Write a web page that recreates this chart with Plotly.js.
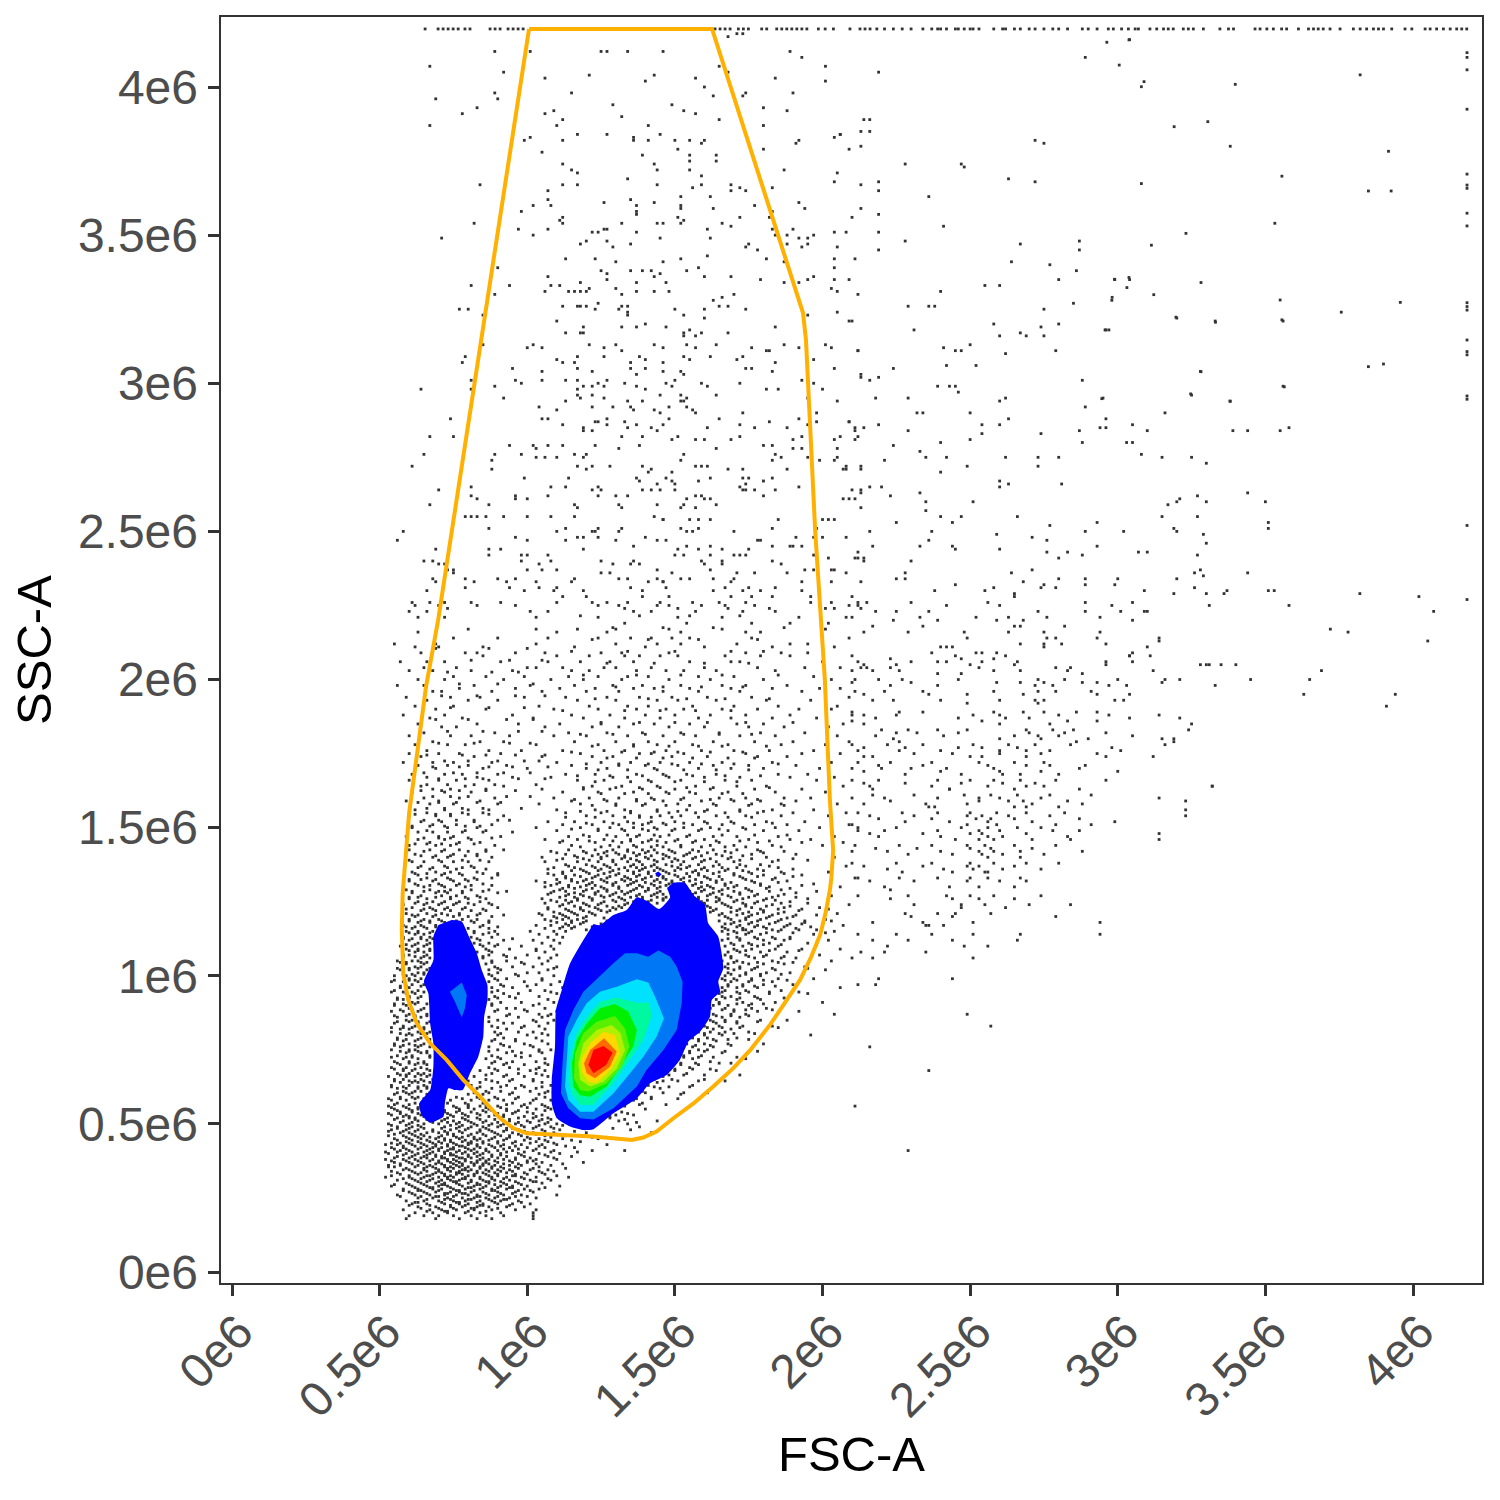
<!DOCTYPE html>
<html><head><meta charset="utf-8"><script src="https://cdn.plot.ly/plotly-3.0.1.min.js"></script>
<style>html,body{margin:0;padding:0;background:#fff}</style></head><body><div id="chart" style="width:1500px;height:1500px"></div>
<script>
// all values in units of 1e6
const xTicks=[0,.5,1,1.5,2,2.5,3,3.5,4];
const tickLabels=["0e6","0.5e6","1e6","1.5e6","2e6","2.5e6","3e6","3.5e6","4e6"];
const railLevel=4.196, railColumn=4.183;
const railTopX=[.654,.698,.715,.732,.749,.766,.789,.806,.874,.891,.908,.935,.952,.969,.986,1.636,1.653,1.670,1.687,1.715,1.732,1.749,1.794,1.811,1.845,1.862,1.879,1.896,1.913,1.930,1.947,1.986,2.009,2.037,2.093,2.127,2.144,2.161,2.184,2.21,2.24,2.27,2.3,2.34,2.37,2.39,2.4,2.42,2.45,2.46,2.48,2.5,2.51,2.53,2.58,2.61,2.62,2.65,2.67,2.7,2.72,2.75,2.78,2.8,2.83,2.88,2.9,2.93,2.968,2.985,3.013,3.036,3.059,3.070,3.109,3.132,3.155,3.171,3.188,3.222,3.239,3.256,3.290,3.346,3.375,3.392,3.465,3.482,3.505,3.527,3.555,3.572,3.612,3.646,3.663,3.679,3.696,3.719,3.753,3.798,3.821,3.843,3.866,3.883,3.900,3.928,3.973,3.996,4.041,4.058,4.080,4.103,4.126,4.148,4.165,4.182];
const railRightY=[4.116,4.100,4.058,3.925,3.706,3.669,3.658,3.574,3.531,3.272,3.259,3.247,3.146,3.107,3.096,2.957,2.946,2.52,2.27];
// x,y pairs
const upperXY=[.89,4.12,1.01,4.12,1.25,4.12,1.27,4.12,1.34,4.12,1.46,4.12,.67,4.07,.92,4.05,1.06,4.03,1.21,4.04,1.4,4.02,1.43,4.04,1.57,4.03,1.6,4,1.65,4.07,1.68,4.05,1.15,3.98,.89,3.98,.9,3.96,.69,3.96,.83,3.93,.78,3.91,.67,3.87,1.06,3.91,1.09,3.92,1.29,3.94,1.49,3.94,1.53,3.92,1.57,3.91,1.63,3.97,1.32,3.9,1.12,3.89,1.1,3.87,1.65,3.89,1.41,3.87,1.17,3.84,1.27,3.84,1.45,3.84,1.01,3.83,.99,3.82,1.12,3.82,1.36,3.83,1.36,3.82,1.41,3.82,1.5,3.82,1.55,3.82,1.59,3.81,1.6,3.82,1.51,3.79,1.05,3.78,1.39,3.77,1.55,3.77,1.55,3.75,1.64,3.77,1.64,3.75,1.12,3.74,1.43,3.74,1.15,3.72,1.44,3.72,1.55,3.72,1.17,3.71,1.59,3.7,1.34,3.69,1.12,3.67,1.17,3.67,1.44,3.67,1.59,3.67,1.69,3.67,.84,3.67,1.56,3.66,1.72,3.66,1.69,3.65,1.74,3.65,1.83,3.66,1.07,3.65,1.07,3.62,1.35,3.62,1.52,3.63,1.62,3.63,1.08,3.6,1.26,3.61,1.37,3.6,1.43,3.61,1.52,3.6,1.52,3.59,1.63,3.59,1.02,3.6,.98,3.58,1.37,3.58,1.37,3.57,1.83,3.58,1.77,3.6,1.12,3.56,1.11,3.55,1.12,3.54,1.51,3.56,1.53,3.55,1.52,3.54,1.32,3.54,1.44,3.54,1.46,3.54,1.66,3.54,1.72,3.56,1.69,3.53,1.82,3.56,.82,3.54,.97,3.52,1.07,3.52,1.02,3.5,.71,3.49,1.22,3.51,1.24,3.51,1.26,3.52,1.27,3.52,1.37,3.51,1.61,3.52,1.62,3.49,1.45,3.49,1.2,3.48,1.27,3.48,1.35,3.47,1.18,3.47,1.29,3.46,1.75,3.47,1.74,3.46,1.78,3.45,1.83,3.52,1.9,3.52,1.84,3.5,1.88,3.5,1.92,3.49,1.95,3.49,1.97,3.5,1.88,3.47,1.93,3.46,1.95,3.47,2.04,3.51,2.08,3.51,2.19,3.51,2.05,3.46,2.04,3.83,2.06,3.84,1.92,3.82,1.91,3.81,1.8,3.79,2.13,3.8,2.16,3.85,2.14,3.89,1.8,3.87,1.8,3.93,1.88,3.92,1.9,3.98,1.74,3.98,1.73,3.97,1.84,4.03,2.01,4.02,2.01,4.07,1.89,4.12,1.93,4.1,1.87,3.72,2.05,3.71,2.04,3.68,2.19,3.68,1.92,3.61,1.94,3.59,2.1,3.56,1.68,4.17,1.71,4.18,1.73,4.18,1.13,3.42,1.23,3.42,1.3,3.41,1.46,3.41,1.52,3.42,1.61,3.43,1.81,3.42,1.87,3.41,2.04,3.42,2.11,3.42,.9,3.39,1.25,3.38,1.35,3.38,1.39,3.38,1.42,3.38,1.54,3.38,1.58,3.39,2.04,3.39,1.07,3.36,1.27,3.37,1.43,3.36,1.45,3.37,1.6,3.36,1.69,3.36,.81,3.33,.94,3.33,1.08,3.33,1.11,3.33,1.18,3.34,1.27,3.35,1.37,3.34,1.47,3.34,1.79,3.35,1.87,3.34,1.92,3.34,1.95,3.35,1.97,3.36,2.04,3.35,2.09,3.35,1.06,3.31,1.14,3.31,1.16,3.31,1.18,3.31,1.2,3.31,1.21,3.32,1.3,3.32,1.37,3.31,1.43,3.31,1.48,3.31,1.32,3.3,.89,3.3,2.03,3.32,2.05,3.31,2.12,3.3,1.7,3.3,1.66,3.29,1.63,3.28,1.24,3.27,1.17,3.26,1.18,3.26,1.2,3.26,1.12,3.26,1.65,3.26,1.68,3.26,.8,3.25,.77,3.25,1.23,3.25,1.32,3.26,1.34,3.26,1.31,3.25,1.34,3.24,1.34,3.23,1.5,3.25,1.6,3.25,1.74,3.25,1.53,3.23,1.6,3.22,1.95,3.23,2.05,3.24,.85,3.23,1.1,3.21,2.1,3.21,1.19,3.19,1.19,3.17,1.18,3.17,1.32,3.19,1.37,3.19,1.4,3.2,1.47,3.19,1.84,3.19,1.13,3.17,1.53,3.17,1.55,3.18,1.59,3.17,1.68,3.17,1.53,3.16,1.57,3.16,2.89,4.1,2.19,4.05,3.04,4.16,2.72,3.82,2.75,3.81,2.28,3.74,2.47,3.74,2.48,3.73,2.63,3.69,2.72,3.68,2.19,3.65,2.36,3.63,2.87,3.48,2.87,3.45,2.67,3.47,2.64,3.41,2.77,3.4,2.86,3.38,2.99,3.35,3.04,3.35,2.98,3.28,2.6,3.33,2.55,3.33,2.8,3.35,2.41,3.53,2.28,3.48,2.19,3.57,2.09,3.79,2.13,3.85,2.16,3.89,2.06,3.84,2.13,3.67,2.19,3.45,2.13,3.59,2.38,3.26,2.4,3.31];
const farRightXY=[2.963,4.151,3.038,4.159,3.005,4.074,3.089,4.018,3.08,4.001,3.398,4.009,3.821,4.041,3.191,3.866,3.305,3.883,3.381,3.8,3.917,3.783,3.556,3.699,3.08,3.674,3.849,3.649,3.926,3.649,3.532,3.54,3.231,3.506,3.114,3.466,2.989,3.351,3.038,3.357,3.031,3.323,3.282,3.34,2.981,3.29,3.122,3.299,3.55,3.281,3.957,3.273,3.757,3.24,3.197,3.223,3.331,3.206,3.556,3.214,2.957,3.18,3.849,3.056,3.9,3.065,3.282,3.039,3.564,2.988,3.247,2.964,3.381,2.939,2.946,2.948,2.29,3.26,2.36,3.26,2.09,3.21,2.31,3.18,2.58,3.2,2.6,3.16,2.67,3.17,2.69,3.16,2.74,3.19,2.75,3.16,2.8,3.2,2.75,3.25,2.85,3.27,2.96,3.18,2.97,3.18,3.2,3.22,3.33,3.21,3.56,3.21,2.12,3.11,2.41,3.12,2.45,3.11,2.47,3.11,2.5,3.13,2.62,3.1,2.79,3.11,2.24,3.05,2.42,3.06,2.52,3.06,2.13,3.02,2.16,3.01,2.19,3.02,2.39,2.99,2.43,2.99,2.45,2.99,2.46,2.97,2.88,3.01,3.28,3.04,3.25,2.96,3.56,2.99,2.18,2.95,2.29,2.95,2.6,2.94,2.62,2.95,2.89,2.92,2.95,2.95,3.38,2.94,3.16,2.9,2.32,2.9,2.34,2.9,2.5,2.9,2.63,2.88,2.09,2.87,2.11,2.85,2.14,2.85,2.19,2.86,2.54,2.86,2.6,2.86,2.96,2.88,3.05,2.86,2.94,2.85,2.96,2.85,3.1,2.84,2.87,2.84,2.29,2.84,3.39,2.84,3.44,2.84,3.55,2.84,3.58,2.85,2.12,2.82,2.54,2.83,2.74,2.83,2.5,2.81,2.4,2.8,3.03,2.8,3.05,2.8,2.88,2.8,2.24,2.79,2.33,2.77,3.08,2.76,2.35,2.75,2.42,2.75,2.62,2.75,2.73,2.75,2.8,2.75,3.15,2.75,3.25,2.75,2.21,2.74,3.3,2.73,2.49,2.72,2.73,2.72,2.08,2.72,2.13,2.71,2.4,2.7,2.6,2.67,2.63,2.66,2.81,2.66,2.6,2.65,2.16,2.65,2.2,2.65,2.13,2.63,2.33,2.63,2.23,2.62,3.44,2.63,3.27,2.62,2.35,2.6,2.51,2.6,3.21,2.61,3.2,2.6,3.3,2.6,3.5,2.6,3.17,2.59,2.35,2.57,3.27,2.55,3.15,2.55,2.47,2.55,2.4,2.55,2.66,2.55,2.44,2.53,2.25,2.53,2.93,2.53,3.51,2.53,2.77,2.52,3.19,2.51,3.51,2.51,2.37,2.5,3.02,2.5,2.16,2.5,2.89,2.5,3.2,2.5,2.59,2.49,3.29,2.49,2.71,2.48,2.76,2.47,2.36,2.47,3.3,2.46,2.17,2.45,2.33,2.45,2.44,2.45,2.93,2.45,2.6,2.44,2.45,2.44,2.76,2.43,2.83,2.43,3.07,2.43,3.1,2.43,2.12,2.43,2.88,2.42,3.27,2.42,2.8,2.41,2.14,2.4,2.3,2.4,2.71,2.37,2.28,2.36,2.64,2.36,3.26,2.36,3.44,2.36,3.29,2.35,2.25,2.34,2.28,2.34,2.8,2.34,2.89,2.34,3.2,2.34,3,2.34,2.45,2.32,2.68,2.33,2.99,2.32,2.89,2.32,2.75,2.32,2.79,2.31,2.74,2.31,2.58,2.31,3.26,2.31,3.09,2.3,2.55,2.3,2.38,2.3,3.37,2.3,3.51,2.3,2.65,2.29,2.65,2.28,3.3,2.29,3.72,2.17,3.78,2.16,3.63,1.95,3.65,2,3.69,2.03,3.91,1.91,3.94,1.95,4.05,2.13,4.02,2.28,4.07,2.23,3.82,2.29,3.58,2.25,3.53,2.3,3.3,2.05,3.35,2.05,3.45,2,3.19,1.8,3.24,1.83,3.16,1.78,3.23,1.56,3.32,1.64,3.14,1.46,2.94,1.14,3.02,1.93,3.14,2.13,3.04,2.08,3.21,2,3.09,2.23,3.19,2.29,3.28,2.37,3.36,2.29,2.49,.87,2.57,.83,2.36,.68,2.16,.76,2.11,.56,2.29,.41];
// rows: first number is SSC, the rest are FSC readings on that row
const gateRows=[[3.13,.85,1.02,1.21,1.3,1.43,1.54,1.64,1.87,2.01],[3.12,1,1.05,1.26,1.46,1.57,1.76,1.92,2.03],[3.11,1.32,1.81,1.82,2.12],[3.09,.79,1.17,1.26,1.38,1.53,1.62,1.73],[3.08,1.1,1.4,1.55,1.71,1.97],[3.07,.78,1.12,1.16,1.46,1.84,1.35],[3.05,.95,1.17,1.4,1.74,1.76,2.04,1.35],[3.04,1.05,1.22,1.46,1.52,1.83],[3.03,1.37,1.53,2.13],[3.01,.81,.96,1.05,1.13,1.17,1.27,1.5,1.93],[3,.98,1.24,1.33,1.47,1.59,1.72,1.97],[2.99,.89,1.19,1.22,1.26,1.37,1.49,1.61],[2.98,.64,.81,1.17,1.4,1.81,1.85,2],[2.96,1.17,1.45,1.52,1.64,1.22],[2.95,.92,1.18,1.26,1.54,1.95],[2.94,1.13,1.34,1.39,1.52,1.53,2.05],[2.92,1.04,1.22,1.29,1.35,1.48,1.54],[2.91,1.1,1.36,1.43,1.56],[2.9,1.45,1.57,1.73,1.98],[2.88,.74,1.05,1.07,1.27,1.48,1.65,1.92],[2.87,1.24,1.23,1.33,1.82,1.98,2.09],[2.86,1.12,1.27,1.37,1.46,1.72,1.95],[2.85,1.19,1.34,1.42,1.61,1.77,1.88],[2.84,1.19,1.22,1.44,2.11],[2.82,.67,.75,1.32,1.39,1.51,1.72,1.93,2.06],[2.81,1.49,1.57,1.6,1.69,1.9,2.04,2.11],[2.79,.94,1.02,1.07,1.12,1.23,1.38,1.8,1.83],[2.78,1.03,1.64,1.93,2.05,1.31,1.9],[2.76,.65,.89,.98,1.2,1.16,1.53,1.84],[2.75,1.03,1.06,1.1,1.19,1.86,2.05,1.95],[2.74,.88,1.52,1.83,1.99,2.04],[2.72,.61,1.17,1.22,1.28,1.39,1.57,1.59,1.61,2.13],[2.71,.88,1.2,1.42,1.68,1.73,1.88,2.07,2.08],[2.7,1.41,1.49],[2.68,.99,1.14,1.37,1.47,1.62,1.73,1.75,1.83],[2.67,1.38,1.49,1.58,1.8],[2.66,1.44,1.5,1.74],[2.65,.81,1.08,1.13,1.24,1.72,1.92],[2.64,.7,1.22,1.25,1.39,1.42,1.45,1.5,1.73,1.74,1.77,1.84,2.1,2.13],[2.62,.81,.96,1.07,1.24,1.3,1.34,1.57,1.59,1.8],[2.61,.83,.96,1,1.54,1.6,1.62,2.07,2.11,2.09],[2.59,.67,.87,1.16,1.31,1.44,1.53,1.64],[2.58,1.17,1.32,1.52,1.57,2.13],[2.55,.79,.81,.83,.86,.92,1,1.08,1.16,1.43],[2.54,1.46,1.46,1.55,1.58,1.62,1.85,2,2.02,2.04],[2.51,.87,1.13,1.24,1.32,1.52,1.58,1.83,1.98],[2.5,.58,1.1,1.22,1.23,1.31,1.54,1.56,1.7],[2.48,.96,1.17,1.19,1.24,1.4,1.91,1.97,2,2.08],[2.47,.56,1,1.13,1.3,1.44,1.47,1.78,1.79],[2.45,1.36,1.54,1.83,1.89,1.9,1.93,1.62],[2.44,.69,.87,.91,1.19,1.51,1.58,1.66,1.75],[2.42,.87,.98,1,1.07,1.5,1.53,1.62,1.7,1.72,1.74,1.97],[2.41,2.02,2.11,2.12,2.14],[2.4,.65,.68,.98,1.08,1.25,1.36,1.59,1.66,1.83],[2.39,.7,.72,1.04,1.29,1.35,1.38,1.6,1.66,1.86],[2.37,.73,.75,1,1.05,1.1,1.44,1.62,1.94,1.97,2.03,2.04],[2.36,.75,1.25,1.28,1.49,1.71,1.77,1.88,2.08],[2.34,.68,.79,.9,.96,1.16,1.31,1.34,1.44,1.52,1.55,1.63,1.7],[2.33,.69,.82,.93,1.03,1.15,1.41,1.46,1.46,1.69,1.93,2.03,2.13],[2.31,.79,.94,1.04,1.1,1.35,1.47,1.67,1.75,1.84],[2.3,.66,.99,1.09,1.19,1.39,1.63,1.73,1.79,1.93],[2.28,1.12,1.2,1.39,1.48,1.69,1.76,1.83,1.96,2.1],[2.26,.61,.67,.72,.81,.91,1.1,1.22,1.27,1.34,1.45,1.56,1.65,1.74,1.96,2.03,2.12],[2.25,.62,.7,.83,.96,1.24,1.31,1.44,1.48,1.59,1.67,1.77,1.99,2.09],[2.24,.73,1.33,1.51,1.68,1.82,2.01,2.04,2.13]];
const clusterRows=[[2.26,2.15,2.3,2.56,2.89,3.05],[2.25,2.12,2.42,2.6,2.98,3.31],[2.23,2.18,2.25,2.73,2.89,3.01,3.1,2.36],[2.21,2.1,2.33,2.52,2.63,2.76,2.94],[2.2,2.24,2.39,2.59,2.68,3.05],[2.18,2.17,2.34,2.82,2.65,2.67],[2.16,2.14,2.29,2.48,2.63,2.75,2.94],[2.14,2.49,2.76,2.79,2.93,3.14],[2.12,2.81,2.67,2.75,2.96],[2.11,2.4,2.44,2.42,3.1,2.75],[2.09,2.37,2.54,2.52,2.59,3.05],[2.08,2.45,2.62,2.1,3.04,3.11],[2.07,2.23,2.47,2.58],[2.06,2.12,2.3,2.39,2.42,2.54,2.66,2.96,3.05],[2.05,2.14,2.25,2.5,2.65,2.96,3.28,3.31,3.4],[2.04,2.13,2.15,2.23,2.53,2.79,2.84],[2.03,2.1,2.17,2.26,2.58,2.67,2.83,3.12],[2.02,2.39,2.47,2.88],[2,2.19,2.27,2.46,2.73,2.82,3,3.16],[1.99,2.1,2.3,2.59,2.67,2.75,2.88,2.93,3.15],[1.98,2.23,2.39,2.72,2.78,2.97,3.03,3.33],[1.96,2.11,2.21,2.34,2.58,2.73,2.79,2.91],[1.95,2.14,2.36,2.49,2.68,2.93,3.04],[1.93,2.17,2.24,2.4,2.6,2.72,2.75,2.99],[1.92,2.49,2.73],[1.89,2.1,2.26,2.34,2.58,2.68,2.75,2.86,2.93],[1.88,2.14,2.25,2.51,2.6,2.8,2.97,3.14],[1.87,2.18,2.46,2.62,2.7,3.04,3.21],[1.86,2.1,2.54,2.83,2.93],[1.85,2.14,2.6,2.77,3.25],[1.83,2.2,2.29,2.39,2.49,2.69,2.78,2.85],[1.82,2.25,2.32,2.46,2.7,2.82,2.96],[1.81,2.18,2.41,2.65,2.73,2.8,3.05],[1.8,2.24,2.6,2.74,2.9,3.15],[1.79,2.26,2.86,3.19],[1.78,2.1,2.22,2.34,2.51,2.63,2.72,2.84],[1.77,2.14,2.28,2.46,2.54,2.66,2.98],[1.76,2.12,2.26,2.4,2.6,2.69,2.77,3.01],[1.75,2.31,2.44,2.74,2.93,2.6],[1.74,2.14,2.17,2.5,2.54,2.69,2.96,3.12],[1.72,2.12,2.23,2.37,2.53,2.65,2.75],[1.71,2.19,2.34,2.56,2.69,2.77,2.89],[1.7,2.3,2.42,2.58,2.2,2.87],[1.69,2.14,2.4,2.6,2.74,3],[1.68,2.28,2.47,2.61,2.67,2.8],[1.66,2.1,2.19,2.39,2.5,2.58,2.67,2.79,2.96],[1.65,2.14,2.28,2.47,2.61,2.72],[1.64,2.16,2.37,2.56,2.69,2.75,3.32],[1.63,2.17,2.43,2.43,2.65,2.87],[1.61,2.17,2.31,2.48,2.57,2.66,2.77,2.91],[1.6,2.21,2.39,2.53,2.6,2.74,3.14],[1.59,2.23,2.53,2.63,2.68,2.83,3.23],[1.58,2.14,2.35,2.49,2.71,2.88],[1.57,2.38,2.36,2.65,2.69,2.8],[1.55,2.12,2.27,2.39,2.5,2.59,2.69,2.82],[1.54,2.16,2.31,2.49,2.54,2.63,2.77,3.23],[1.53,2.19,2.37,2.52,2.57,2.65,2.87],[1.52,2.28,2.43,2.56,2.71,2.99],[1.51,2.1,2.49,2.59,2.79,2.91],[1.5,2.12,2.25,2.47,2.56,2.66,2.74],[1.49,2.21,2.39,2.53,2.6,2.78,2.87],[1.48,2.16,2.34,2.5,2.54,2.69,3.14],[1.47,2.19,2.4,2.56,2.61,2.83],[1.46,2.45,2.53,2.58,2.71,2.84],[1.44,2.11,2.26,2.37,2.49,2.55,2.65,2.79],[1.43,2.18,2.32,2.5,2.57,2.71],[1.42,2.22,2.4,2.53,2.58,2.67,2.88],[1.41,2.29,2.44,2.54,2.61,2.75],[1.4,2.56,2.67],[1.38,2.1,2.25,2.37,2.5,2.58,2.69,2.8],[1.37,2.14,2.34,2.49,2.53,2.65],[1.36,2.22,2.41,2.51,2.61,2.74],[1.35,2.27,2.44,2.55,2.56],[1.33,2.12,2.26,2.39,2.5,2.56,2.67],[1.32,2.16,2.31,2.49,2.6,2.69],[1.3,2.21,2.43,2.53,2.65],[1.29,2.23],[1.27,2.12,2.29,2.42,2.5,2.58,2.74],[1.26,2.23,2.44,2.53,2.65],[1.24,2.31,2.47,2.55,2.7,2.84],[1.23,2.47,2.62],[1.21,2.28,2.39,2.45,2.57],[1.2,2.3,2.44,2.79],[1.18,2.17,2.34,2.51,2.94],[1.17,2.35,2.41,2.36],[1.14,2.12,2.25,2.37,2.51,2.67],[1.12,2.17,2.29,2.44,2.66],[1.1,2.22,2.56,2.48],[1.08,2.13,2.35,2.21],[1.06,2.1,2.17,2.51],[.99,2.19,2.44],[.97,2.12,2.18]];
const midRows=[[2.23,.6,.66,1.01,1.07,1.36,1.42,1.57,1.73,1.84],[2.21,.63,.72,1.03,1.24,1.51,1.66,1.92,2.08],[2.19,1.33,1.54,1.76,1.89,2.02],[2.17,.8,1.03,1.17,1.3,1.48,1.66,2.01],[2.16,.63,1.1,1.27,1.52,1.74,1.79],[2.14,.75,.9,1.07,1.24,1.35,1.42,1.49,1.55,1.76,2.09],[2.12,.55,.69,1.03,1.3,1.44,1.52,1.71,1.89,1.95],[2.11,.62,.7,.85,1.16,1.4,1.6,1.83,2.04],[2.09,.64,.79,.83,.96,1.06,1.25,1.32,1.48,1.74,1.86,1.95],[2.08,.85,1.1,1.21,1.33,1.38,1.45,1.51,1.67,1.79,1.89],[2.06,.57,.66,.72,.91,1.07,1.18,1.28,1.36,1.55,1.69,1.72,2],[2.04,.65,.76,1,1.03,1.12,1.26,1.3,1.42,1.6,1.78,1.94,2.06],[2.03,.6,.68,.81,.95,1.15,1.21,1.37,1.47,1.53,1.64,1.84],[2.01,.75,.86,.99,1.14,1.24,1.34,1.41,1.58,1.7,1.97],[2,.63,.72,.92,1.08,1.19,1.32,1.48,1.62,1.8,2.03,2.11],[1.98,.56,.65,.82,1.01,1.16,1.29,1.39,1.52,1.66,1.74,1.88],[1.97,.77,.96,1.11,1.23,1.36,1.43,1.55,1.69,1.83,1.99,2.06],[1.96,.68,.71,.88,1.05,1.2,1.31,1.46,1.58,1.72,1.93],[1.94,.59,.74,.84,.99,1.13,1.27,1.38,1.49,1.61,1.76,2.01,2.09],[1.93,.66,.8,.9,1.17,1.3,1.44,1.51,1.64,1.81,1.96],[1.91,.62,.75,1.04,1.21,1.34,1.41,1.56,1.7,1.85,2.05],[1.9,.69,.86,1.09,1.24,1.37,1.47,1.53,1.66,1.78,1.92,2.03],[1.88,.58,.72,.95,1.15,1.28,1.4,1.5,1.62,1.74,1.89,2.1],[1.87,.67,.78,1.02,1.19,1.33,1.45,1.58,1.69,1.83,1.98],[1.85,.63,.83,.97,1.11,1.25,1.36,1.43,1.55,1.71,1.8,2.07],[1.84,.71,.76,1.06,1.22,1.31,1.48,1.6,1.75,1.87,2.02],[1.82,.65,.89,1.14,1.27,1.39,1.52,1.65,1.79,1.94],[1.81,.6,.74,.81,.94,1.09,1.2,1.34,1.46,1.57,1.72,1.84,2.05],[1.79,.68,.84,.92,1.16,1.3,1.41,1.5,1.63,1.77,1.9,2.09],[1.78,.62,.73,.79,1.03,1.24,1.36,1.44,1.56,1.68,1.86,2.01],[1.76,.66,.87,.98,1.12,1.26,1.33,1.47,1.59,1.7,1.82,1.97],[1.75,.6,.7,.77,.91,1.18,1.38,1.42,1.53,1.74,1.93,2.06],[1.74,.64,.82,1.05,1.22,1.29,1.49,1.61,1.78,1.88],[1.72,.58,.68,.75,.88,1.1,1.25,1.35,1.45,1.55,1.66,1.83,2.03],[1.71,.63,.73,.8,.93,1.15,1.31,1.4,1.51,1.63,1.75,1.91],[1.7,.69,.85,1,1.2,1.27,1.43,1.58,1.69,1.8,1.99,2.1],[1.68,.61,.72,.78,.9,1.13,1.23,1.37,1.46,1.54,1.64,1.85,1.95],[1.67,.66,.83,.95,1.08,1.29,1.34,1.48,1.6,1.72,1.89,2.04],[1.66,.6,.7,.76,.87,1.17,1.26,1.41,1.52,1.67,1.76,1.98],[1.64,.64,.79,.92,1.22,1.32,1.44,1.57,1.71,1.81,2.07],[1.63,.68,.74,.86,1.05,1.19,1.28,1.39,1.5,1.62,1.77,1.93],[1.62,.61,.72,.81,1.12,1.24,1.36,1.47,1.55,1.68,1.84,2.01],[1.6,.65,.77,.89,1.09,1.21,1.31,1.42,1.53,1.65,1.74,1.87,1.96,2.1],[1.59,.59,.7,.84,1.15,1.27,1.37,1.46,1.59,1.7,1.79,1.91],[1.58,.67,.75,.9,1.04,1.18,1.3,1.4,1.51,1.63,1.76,1.86,2.05],[1.56,.62,.72,.8,.87,1.1,1.23,1.33,1.44,1.54,1.61,1.72,1.83,1.97],[1.55,.66,.78,.85,1.13,1.25,1.35,1.48,1.57,1.67,1.78,1.9,2.08],[1.54,.6,.69,.74,.92,1.2,1.29,1.38,1.45,1.52,1.64,1.74,1.86,2.02],[1.52,.64,.71,.82,1.07,1.16,1.26,1.34,1.42,1.5,1.6,1.69,1.81,1.94],[1.51,.68,.76,.88,1.12,1.22,1.31,1.39,1.47,1.56,1.66,1.77,1.88,2.09],[1.5,.61,.73,.83,1.03,1.18,1.28,1.36,1.43,1.53,1.62,1.73,1.84,1.99],[1.49,.66,.79,.86,1.1,1.24,1.33,1.41,1.49,1.58,1.68,1.8,1.92,2.12],[1.47,.59,.7,.75,.91,1.14,1.21,1.3,1.37,1.45,1.54,1.63,1.71,1.85,2.04],[1.46,.63,.72,.81,1.06,1.17,1.26,1.35,1.42,1.51,1.6,1.75,1.89,1.96],[1.45,.67,.77,.84,1.11,1.23,1.32,1.39,1.47,1.56,1.65,1.78,1.93,2.07],[1.44,.6,.69,.74,.89,1.15,1.28,1.36,1.44,1.52,1.62,1.7,1.83,2],[1.42,.65,.71,.8,.86,1.08,1.19,1.27,1.34,1.41,1.49,1.58,1.67,1.79,1.87,2.1],[1.41,.62,.75,.83,1.13,1.24,1.31,1.38,1.46,1.54,1.64,1.76,1.91],[1.4,.68,.73,.88,1.05,1.17,1.25,1.33,1.4,1.48,1.57,1.69,1.81,2.04],[1.39,.6,.7,.78,.84,1.1,1.21,1.29,1.37,1.43,1.51,1.6,1.72,1.85,1.95],[1.37,.64,.72,.81,1.14,1.22,1.27,1.35,1.42,1.49,1.55,1.63,1.74,1.82,2.08],[1.36,.67,.76,.86,1.07,1.18,1.25,1.31,1.39,1.45,1.52,1.59,1.68,1.78,1.9],[1.35,.61,.69,.74,.83,1.12,1.2,1.28,1.36,1.41,1.47,1.56,1.65,1.75,1.86,2.02],[1.34,.63,.71,.78,.9,1.09,1.16,1.24,1.3,1.38,1.44,1.5,1.58,1.7,1.8,1.93],[1.33,.66,.73,.82,.88,1.13,1.22,1.27,1.34,1.4,1.46,1.53,1.61,1.73,1.84,2.11],[1.32,.6,.68,.75,.8,1.03,1.15,1.19,1.26,1.33,1.37,1.43,1.49,1.55,1.64,1.76,1.88],[1.31,.62,.7,.77,.85,1.1,1.21,1.29,1.35,1.42,1.48,1.57,1.67,1.79,1.97],[1.3,.65,.72,.79,1.06,1.14,1.18,1.25,1.31,1.39,1.45,1.51,1.59,1.62,1.7,1.82,2.06],[1.29,.59,.67,.74,.81,.87,1.11,1.2,1.27,1.36,1.41,1.54,1.6,1.66,1.75,1.86],[1.28,.61,.69,.73,.78,.9,1.08,1.16,1.23,1.3,1.34,1.44,1.57,1.63,1.72,1.91],[1.27,.64,.71,.76,.83,1.13,1.19,1.25,1.28,1.37,1.42,1.55,1.61,1.68,1.77,1.85,2.03],[1.26,.6,.66,.74,.8,.86,1.05,1.17,1.22,1.32,1.39,1.46,1.58,1.65,1.73,1.81,1.95],[1.25,.63,.68,.72,.77,.84,1.1,1.15,1.26,1.3,1.36,1.41,1.59,1.64,1.7,1.78,1.89],[1.24,.58,.65,.7,.75,.82,.88,1.12,1.2,1.24,1.33,1.38,1.6,1.67,1.74,1.83,2.09],[1.23,.61,.67,.73,.79,.9,1.07,1.18,1.23,1.29,1.32,1.62,1.69,1.76,1.87,1.99],[1.22,.64,.69,.74,.81,.86,1.14,1.19,1.25,1.28,1.63,1.71,1.8,1.92],[1.21,.59,.66,.71,.77,.84,1.04,1.11,1.16,1.22,1.66,1.73,1.78,1.85,2.05],[1.2,.62,.68,.75,.8,.88,1.09,1.13,1.2,1.67,1.75,1.82,1.9],[1.19,.6,.65,.7,.78,.83,1.06,1.12,1.17,1.69,1.74,1.79,1.86,2.01],[1.18,.63,.67,.72,.82,.87,1.1,1.15,1.19,1.7,1.76,1.84,1.94],[1.17,.58,.64,.69,.76,.85,1.03,1.08,1.14,1.72,1.78,1.88,2.07]];
const lowerRows=[[1.16,.61,.66,.76,.8,.87,1.06,1.11,1.15,1.67,1.73,1.81,1.91],[1.15,.59,.63,.68,.82,.89,1.01,1.09,1.13,1.66,1.7,1.76,1.85,2.04],[1.14,.62,.65,.85,.9,1.04,1.1,1.68,1.74,1.79,1.97],[1.13,.58,.64,.67,.81,.88,1.07,1.12,1.71,1.77,1.83,1.89],[1.12,.6,.66,.84,.92,1.02,1.09,1.66,1.72,1.8,1.87,2.02],[1.11,.63,.67,.82,.87,1.05,1.11,1.69,1.75,1.82,1.95],[1.1,.57,.61,.65,.85,.89,.98,1.08,1.67,1.73,1.78,1.85],[1.09,.59,.63,.67,.86,.94,1.03,1.09,1.7,1.76,1.84,1.93,2.06],[1.08,.62,.65,.83,.88,1.06,1.68,1.72,1.79,1.88],[1.07,.58,.6,.66,.87,.92,1,1.1,1.67,1.74,1.81,1.99],[1.06,.64,.67,.85,.96,1.04,1.08,1.69,1.77,1.86,1.91],[1.05,.56,.61,.63,.88,.93,1.07,1.66,1.71,1.83,2.03],[1.04,.59,.65,.86,.99,1.05,1.68,1.75,1.8,1.87],[1.03,.62,.64,.89,.95,1.02,1.1,1.67,1.72,1.78,1.94],[1.02,.57,.6,.66,.87,.91,1.07,1.7,1.76,1.84,2.01],[1.01,.63,.65,.9,1,1.04,1.68,1.74,1.81,1.89],[1,.55,.59,.62,.88,.97,1.09,1.67,1.72,1.79],[.99,.6,.64,.89,.93,1.05,1.66,1.7,1.76,1.85,1.97],[.98,.54,.58,.63,.87,.99,1.11,1.69,1.75,1.83],[.97,.61,.65,.91,1.03,1.08,1.68,1.73,1.8,1.9],[.96,.57,.6,.88,.95,1.12,1.66,1.71,1.78,2.06],[.95,.55,.63,.9,1.01,1.06,1.67,1.74,1.86],[.94,.59,.62,.92,.97,1.1,1.65,1.72,1.82,1.95],[.93,.6,.64,.89,.94,1.04,1.66,1.69,1.77],[.92,.56,.58,.87,1.07,1.12,1.64,1.71,1.79,1.88],[.91,.61,.63,.91,.98,1.09,1.65,1.73,1.84,2],[.9,.55,.59,.88,1.02,1.13,1.63,1.68,1.75],[.89,.6,.65,.93,.96,1.06,1.62,1.67,1.76,1.81],[.88,.54,.58,.63,.89,1,1.1,1.61,1.7,1.78,1.92],[.87,.6,.66,.94,1.04,1.08,1.63,1.69,1.74,2.04],[.86,.56,.62,.64,.87,.97,1.05,1.6,1.66,1.72],[.85,.59,.61,.9,1.02,1.09,1.62,1.67,1.79,1.88],[.84,.55,.63,.66,.92,.95,1.07,1.58,1.64,1.71],[.83,.58,.62,.88,.99,1.04,1.6,1.65,1.73,1.83],[.82,.57,.6,.65,.93,1.06,1.56,1.63,1.69],[.81,.54,.63,.67,.89,.97,1.02,1.58,1.62,1.67,1.75],[.8,.59,.61,.9,1,1.07,1.55,1.6,1.66,1.96],[.79,.56,.64,.66,.92,1.03,1.56,1.61,1.71],[.78,.58,.62,.88,.96,1.05,1.52,1.58,1.64],[.77,.55,.6,.65,.91,.99,1.07,1.54,1.6,1.68,1.8],[.76,.57,.63,.67,.87,.94,1.02,1.53,1.56,1.63],[.75,.54,.6,.62,.9,1.04,1.08,1.5,1.58,1.61],[.74,.59,.64,.66,.93,.98,1.05,1.48,1.55,1.66],[.73,.56,.61,.67,.88,.96,1.01,1.49,1.53,1.59],[.72,.58,.63,.86,.91,1.06,1.46,1.51,1.56,1.74],[.71,.55,.6,.65,.89,.95,1.03,1.47,1.5,1.62],[.7,.57,.62,.66,.92,.99,1.07,1.44,1.52,1.58],[.69,.54,.59,.64,.87,.94,1.04,1.43,1.48,1.55],[.68,.58,.61,.67,.84,.9,1.01,1.06,1.45,1.5,1.64],[.67,.56,.6,.63,.65,.88,.97,1.03,1.42,1.47,1.54],[.66,.53,.59,.62,.66,.82,.92,.99,1.07,1.4,1.46],[.65,.55,.58,.64,.68,.86,.95,1.02,1.43,1.49,1.6],[.64,.57,.61,.63,.67,.84,.9,1.05,1.38,1.44],[.63,.54,.6,.65,.7,.81,.93,.98,1.08,1.36,1.41,1.56],[.62,.56,.59,.63,.66,.83,.88,.96,1.03,1.35,1.45],[.61,.58,.62,.64,.69,.86,.91,1.01,1.07,1.33,1.39],[.6,.55,.6,.66,.72,.8,.85,.94,1.04,1.3,1.37,1.52],[.59,.57,.61,.63,.68,.76,.83,.89,.97,1.06,1.34,1.42],[.58,.54,.59,.65,.7,.74,.81,.87,.92,1.02,1.08,1.28,1.36],[.57,.56,.62,.67,.73,.79,.85,.95,1.01,1.31,1.39],[.56,.53,.58,.64,.69,.75,.8,.84,.9,.98,1.06,1.27,1.33],[.55,.55,.6,.63,.71,.77,.82,.87,.93,1.03,1.08,1.29,1.4],[.54,.57,.61,.66,.72,.76,.81,.86,.96,1,1.25,1.32],[.53,.54,.59,.64,.7,.74,.79,.84,.89,.92,1.05,1.3,1.36],[.52,.56,.6,.62,.68,.73,.78,.83,.91,.97,1.02,1.07,1.28],[.51,.58,.63,.67,.71,.75,.8,.86,.94,1,1.04,1.31,1.44],[.5,.53,.6,.65,.7,.76,.82,.88,.92,.96,1.06,1.1,1.34],[.49,.56,.61,.64,.72,.77,.81,.85,.9,.99,1.03,1.08,1.38],[.48,.54,.59,.63,.68,.74,.79,.84,.87,.93,.97,1.05,1.11,1.35],[.47,.57,.6,.66,.7,.73,.78,.83,.89,.95,1,1.02,1.09,1.2,1.42],[.46,.53,.58,.62,.65,.71,.75,.8,.86,.91,.94,.98,1.06,1.13],[.45,.55,.6,.64,.69,.72,.77,.82,.84,.88,.93,1.01,1.04,1.12,1.24],[.44,.59,.63,.67,.7,.74,.78,.81,.85,.9,.96,1.03,1.07,1.18],[.43,.52,.56,.61,.65,.69,.73,.76,.8,.83,.87,.92,.98,1.05,1.1,1.27],[.42,.54,.58,.64,.68,.71,.75,.79,.84,.89,.94,1,1.06,1.16],[.41,.57,.6,.66,.7,.73,.77,.81,.86,.9,.95,1.02,1.09,1.22,1.33],[.4,.53,.59,.63,.67,.72,.74,.78,.82,.85,.91,.97,1.04,1.11],[.39,.56,.61,.65,.69,.71,.76,.8,.83,.88,.93,.99,1.07,1.15],[.38,.52,.58,.62,.68,.73,.75,.79,.84,.87,.92,.96,1.03,1.1],[.37,.55,.6,.64,.7,.74,.77,.81,.83,.86,.9,.95,1,1.05,1.19],[.36,.53,.57,.63,.67,.72,.76,.78,.82,.85,.89,.94,.98,1.08],[.35,.59,.65,.69,.73,.75,.79,.84,.88,.92,.97,1.02,1.13],[.34,.54,.61,.66,.7,.74,.77,.8,.83,.87,.91,.95,1.04,1.09],[.33,.57,.63,.68,.72,.76,.78,.82,.86,.9,.96,1,1.06],[.32,.52,.6,.65,.7,.73,.75,.79,.84,.88,.93,.98,1.03,1.14],[.31,.56,.62,.67,.71,.74,.77,.81,.85,.89,.94,1.01,1.08],[.3,.59,.64,.69,.72,.76,.8,.83,.87,.92,.97,1.05],[.29,.54,.61,.66,.7,.73,.78,.82,.86,.91,.95,1,1.11],[.28,.58,.63,.68,.71,.75,.79,.84,.88,.93,.99,1.04],[.27,.6,.65,.69,.74,.77,.81,.85,.9,.96,1.02],[.26,.56,.62,.67,.72,.76,.8,.83,.87,.92,.98,1.1],[.25,.63,.68,.73,.78,.82,.86,.89,.94,1.03],[.24,.59,.65,.7,.75,.79,.84,.88,.91,.97],[.23,.61,.66,.72,.77,.8,.85,.9,.95,1.01],[.22,.63,.69,.74,.78,.83,.87,.93,.99],[.21,.58,.67,.71,.76,.82,.88,.96,1.03],[.2,.62,.68,.73,.79,.84,.91,1.02],[.19,.6,.65,.7,.75,.81,.86,.92,1.02],[.18,.59,.69,.77,.83,.88,1.02]];
// second pass of readings over the dense populations
const lowClusterRows=[[.205,.66,.72,.73,.8,.86],[.215,.64,.7,.75,.81,.82,.9],[.225,.6,.67,.74,.79,.84,.85,.94],[.235,.62,.63,.71,.76,.77,.83,.89,.98],[.245,.66,.72,.74,.8,.81,.87,.92,.93],[.255,.57,.64,.69,.7,.75,.83,.84,.9,.96,1],[.265,.61,.66,.72,.73,.78,.79,.86,.91,.95],[.275,.58,.63,.64,.7,.76,.77,.82,.88,.89,.97,1.01],[.285,.62,.67,.68,.74,.8,.81,.85,.9,.94,.95,1.06],[.295,.55,.6,.65,.71,.72,.77,.83,.84,.89,.93,.98],[.305,.63,.66,.7,.75,.76,.81,.86,.87,.91,.96,1.02,1.03],[.315,.58,.61,.64,.68,.73,.78,.79,.84,.88,.92,.99,1.07],[.325,.54,.6,.66,.67,.72,.74,.8,.82,.87,.9,.95,.96,1.1],[.335,.56,.62,.64,.69,.71,.76,.77,.83,.85,.89,.93,.99,1.05],[.345,.58,.6,.65,.7,.73,.78,.79,.81,.86,.9,.94,1.01,1.07],[.355,.53,.55,.62,.66,.68,.72,.74,.77,.8,.84,.88,.91,.96,1.04],[.365,.57,.61,.65,.69,.71,.75,.78,.82,.85,.87,.92,.97,1.03,1.12],[.375,.54,.59,.63,.67,.7,.73,.76,.79,.83,.86,.89,.94,1,1.02],[.385,.55,.6,.64,.66,.71,.72,.77,.78,.81,.85,.9,.96,1.01,1.09],[.395,.58,.62,.66,.69,.74,.75,.8,.84,.88,.91,.98,1.06],[.405,.52,.56,.61,.65,.68,.72,.76,.79,.83,.87,.93,.99,1.08,1.17],[.415,.55,.59,.63,.67,.7,.74,.75,.8,.82,.86,.92,.97,1.03],[.425,.58,.62,.66,.69,.73,.77,.78,.83,.88,.91,.96,1.04,1.13],[.435,.54,.57,.6,.64,.68,.71,.75,.8,.81,.85,.9,.95,1.01,1.09],[.445,.56,.61,.66,.72,.74,.79,.83,.87,.92,.99,1.06,1.15],[.455,.59,.63,.67,.7,.76,.78,.82,.89,.94,1,1.08,1.22],[.465,.55,.61,.64,.73,.75,.81,.85,.9,.97,1.03,1.1],[.475,.53,.58,.62,.68,.72,.77,.84,.88,.92,.99,1.06,1.16],[.485,.56,.6,.65,.71,.76,.8,.86,.93,.95,1.02,1.09,1.29],[.495,.54,.59,.63,.74,.78,.83,.87,.91,.98,1.04,1.12],[.505,.57,.61,.68,.73,.77,.81,.85,.9,.97,1.01,1.07,1.37],[.515,.55,.62,.66,.72,.79,.84,.89,.94,1.05,1.08,1.33],[.525,.58,.6,.65,.7,.75,.8,.87,.92,.99,1.03,1.28],[.535,.53,.57,.63,.73,.78,.83,.9,.95,1.02,1.34],[.545,.56,.61,.67,.72,.77,.85,.88,.93,.97,1.06,1.27],[.555,.54,.59,.63,.7,.76,.8,.86,.91,1,1.07,1.31]];
const leftColumnRows=[[.565,.55,.6,.64,.66,.8,.86,.93,.99,1.05],[.585,.53,.57,.62,.65,.78,.84,.9,.96,1.03],[.605,.56,.59,.61,.67,.82,.87,.95,1.06],[.625,.54,.58,.63,.66,.84,.91,.99,1.05],[.645,.55,.6,.62,.65,.8,.88,.94,1.02],[.665,.57,.59,.64,.67,.86,.93,1.05],[.685,.55,.58,.62,.66,.89,.97,1.03],[.705,.56,.6,.63,.65,.88,.93,1.06],[.725,.54,.59,.61,.67,.9,.98],[.745,.57,.6,.63,.66,.87,.95,1.04],[.765,.55,.58,.62,.64,.92,1.01],[.785,.56,.59,.63,.67,.89,.96],[.805,.57,.6,.64,.66,.91,1.05],[.825,.54,.58,.61,.65,.9,.98],[.845,.56,.6,.63,.67,.87,1.03],[.865,.55,.59,.62,.66,.93,1.07],[.885,.57,.61,.64,.9,.99],[.905,.55,.58,.62,.66,.88,1.04],[.925,.56,.6,.63,.9,.96],[.945,.54,.58,.61,.65,.88,1.08],[.965,.57,.59,.64,.92,1],[.985,.55,.6,.62,.66,.9,1.05],[1.005,.58,.61,.65,.87,.96],[1.025,.56,.6,.63,.67,.9,1.09],[1.045,.57,.59,.64,.66,.88,.98],[1.065,.58,.62,.65,.85,.93],[1.085,.6,.63,.67,.87,1.03],[1.105,.59,.62,.66,.84,.9],[1.125,.58,.61,.64,.68,.83,.95],[1.145,.6,.63,.67,.82,.87],[1.165,.59,.62,.65,.69,.84,.9],[1.185,.6,.64,.67,.71,.76,.81,.87],[1.205,.61,.63,.69,.73,.77,.83,.92],[1.225,.59,.65,.68,.72,.78,.85],[1.245,.62,.66,.71,.76,.8,.87],[1.265,.6,.63,.69,.74,.79,.84],[1.285,.61,.65,.7,.72,.78,.85,.93],[1.305,.63,.67,.71,.76,.81,.88],[1.325,.6,.64,.69,.74,.79,.83],[1.345,.62,.66,.72,.77,.85,.9],[1.365,.63,.68,.73,.78,.82],[1.385,.61,.65,.71,.75,.8,.87],[1.405,.64,.69,.74,.79,.83],[1.425,.6,.67,.72,.77,.86,.92],[1.445,.62,.66,.71,.76,.82],[1.465,.65,.7,.74,.8,.88],[1.485,.63,.68,.73,.78,.85,.95],[1.505,.61,.67,.72,.79,.84],[1.525,.65,.7,.76,.82,.9,.94],[1.545,.62,.69,.74,.8,.87],[1.565,.66,.72,.78,.85,.98],[1.585,.63,.7,.76,.83,.91],[1.605,.68,.74,.8,.93,1.01],[1.625,.64,.71,.77,.86,.96],[1.645,.66,.73,.82,.89,1.03],[1.665,.7,.79,.85,.97,1.06],[1.685,.65,.75,.83,.92,1.01],[1.705,.68,.77,.87,.95,1.07],[1.725,.72,.8,.9,.99,1.04],[1.745,.66,.78,.86,.96,1.06],[1.785,.7,.82,.94,1.01],[1.825,.73,.85,.97,1.05],[1.865,.69,.8,.93,1.02],[1.905,.74,.87,.99],[1.945,.71,.83,.96,1.06],[1.985,.77,.9,1.02],[2.025,.73,.88,.97],[2.065,.81,.94,1.05],[2.105,.69,.87,1]];
const aroundMainRows=[[1.155,1.2,1.3,1.35,1.68,1.73,1.74,1.83,1.86,1.92,1.98],[1.165,1.12,1.16,1.22,1.28,1.66,1.71,1.77,1.8,1.87,1.96],[1.175,1.13,1.18,1.25,1.67,1.69,1.75,1.82,1.89,1.93],[1.185,1.08,1.15,1.2,1.27,1.33,1.65,1.72,1.78,1.85,1.94,2.03],[1.195,1.1,1.14,1.19,1.26,1.3,1.38,1.68,1.74,1.81,1.88],[1.205,1.05,1.12,1.17,1.23,1.31,1.36,1.41,1.65,1.71,1.76,1.83,1.91,1.98],[1.215,1.09,1.15,1.21,1.27,1.34,1.39,1.43,1.62,1.69,1.75,1.8,1.87],[1.225,1.07,1.13,1.18,1.24,1.3,1.35,1.4,1.46,1.64,1.72,1.79,1.85,1.93,2.02],[1.235,1.11,1.16,1.21,1.27,1.31,1.36,1.42,1.47,1.61,1.68,1.74,1.81,1.89],[1.245,1.06,1.14,1.19,1.25,1.34,1.38,1.44,1.48,1.6,1.66,1.73,1.77,1.86,1.95],[1.255,1.08,1.13,1.17,1.22,1.29,1.33,1.37,1.42,1.46,1.61,1.65,1.71,1.8,1.84],[1.265,1.11,1.16,1.21,1.26,1.31,1.35,1.39,1.44,1.47,1.58,1.64,1.69,1.75,1.83,1.91],[1.275,1.07,1.14,1.18,1.23,1.29,1.33,1.38,1.43,1.46,1.56,1.62,1.66,1.72,1.78,1.87],[1.285,1.09,1.13,1.19,1.24,1.27,1.32,1.35,1.4,1.45,1.55,1.59,1.65,1.7,1.76,1.82,1.98],[1.295,1.12,1.16,1.22,1.26,1.31,1.37,1.41,1.44,1.48,1.52,1.58,1.63,1.68,1.74,1.81,1.89],[1.305,1.08,1.14,1.2,1.23,1.29,1.34,1.38,1.43,1.47,1.5,1.56,1.61,1.67,1.71,1.79,1.93],[1.315,1.06,1.11,1.17,1.22,1.27,1.3,1.36,1.4,1.45,1.49,1.53,1.59,1.64,1.69,1.77,1.85],[1.325,1.1,1.15,1.2,1.25,1.32,1.35,1.39,1.44,1.47,1.52,1.57,1.62,1.66,1.74,1.83],[1.335,1.13,1.18,1.23,1.28,1.33,1.37,1.42,1.46,1.51,1.55,1.6,1.65,1.72,1.78,1.9],[1.345,1.07,1.12,1.21,1.26,1.31,1.36,1.41,1.48,1.54,1.58,1.63,1.7,1.76,1.87],[1.355,1.15,1.19,1.24,1.29,1.34,1.38,1.43,1.46,1.5,1.57,1.61,1.67,1.73,1.8],[1.365,1.09,1.16,1.23,1.28,1.33,1.37,1.4,1.44,1.51,1.54,1.6,1.66,1.71,1.85],[1.375,1.13,1.2,1.26,1.3,1.36,1.39,1.43,1.47,1.52,1.58,1.65,1.72,1.79],[1.385,1.06,1.17,1.24,1.29,1.34,1.38,1.44,1.49,1.53,1.59,1.64,1.7,1.83],[1.395,1.12,1.19,1.25,1.32,1.35,1.41,1.46,1.5,1.56,1.62,1.68,1.76,1.9],[1.405,1.16,1.22,1.27,1.33,1.37,1.42,1.47,1.53,1.59,1.66,1.73],[1.415,1.1,1.2,1.26,1.3,1.36,1.4,1.44,1.5,1.55,1.61,1.69,1.8],[1.425,1.14,1.23,1.29,1.34,1.39,1.43,1.48,1.56,1.63,1.71,1.78],[1.435,1.18,1.25,1.31,1.37,1.42,1.46,1.52,1.59,1.67,1.74,1.86],[1.455,1.12,1.21,1.29,1.35,1.41,1.44,1.5,1.57,1.64,1.72,1.82],[1.475,1.19,1.27,1.34,1.38,1.43,1.48,1.55,1.66,1.77,1.88],[1.495,1.15,1.24,1.32,1.39,1.44,1.5,1.59,1.65,1.74],[1.515,1.2,1.29,1.36,1.41,1.46,1.53,1.61,1.7,1.83],[1.535,1.13,1.23,1.33,1.38,1.42,1.49,1.58,1.68,1.76],[1.555,1.18,1.27,1.35,1.44,1.51,1.6,1.72,1.8],[1.575,1.22,1.3,1.39,1.47,1.55,1.64,1.75,1.87],[1.595,1.16,1.26,1.37,1.43,1.52,1.62,1.69,1.78],[1.615,1.25,1.33,1.41,1.48,1.57,1.66,1.73],[1.635,1.19,1.3,1.38,1.45,1.54,1.63,1.82],[1.655,1.23,1.35,1.42,1.5,1.6,1.71],[1.675,1.17,1.28,1.39,1.47,1.56,1.67,1.79],[1.695,1.24,1.34,1.44,1.53,1.64,1.75],[1.715,1.2,1.31,1.41,1.49,1.59,1.7,1.85],[1.735,1.27,1.37,1.46,1.56,1.68,1.77],[1.755,1.15,1.32,1.43,1.51,1.62,1.73],[1.775,1.22,1.36,1.48,1.58,1.66,1.81],[1.815,1.18,1.29,1.4,1.53,1.65,1.76],[1.855,1.25,1.38,1.5,1.61,1.74,1.9],[1.895,1.12,1.33,1.45,1.57,1.69],[1.935,1.23,1.41,1.54,1.67,1.82],[1.975,1.3,1.46,1.59,1.73],[2.015,1.19,1.37,1.52,1.66,1.85],[2.055,1.27,1.43,1.6,1.75],[2.095,1.15,1.34,1.5,1.69,1.8],[2.135,1.22,1.41,1.58,1.78],[2.175,1.29,1.46,1.63,1.87],[2.215,1.18,1.38,1.55,1.72]];
const rightOfMainRows=[[.565,1.33,1.38,1.47],[.585,1.37,1.42,1.51],[.605,1.4,1.46,1.53,1.61],[.625,1.43,1.48,1.55],[.645,1.46,1.51,1.58,1.67],[.665,1.48,1.53,1.6,1.72],[.685,1.5,1.56,1.62],[.705,1.52,1.57,1.65,1.69],[.725,1.53,1.58,1.63,1.71],[.745,1.55,1.6,1.67,1.78],[.765,1.57,1.62,1.69],[.785,1.58,1.63,1.68,1.75],[.805,1.6,1.65,1.7,1.77],[.825,1.61,1.66,1.72,1.85],[.845,1.63,1.67,1.71,1.78],[.865,1.64,1.69,1.75],[.885,1.66,1.7,1.74,1.83],[.905,1.65,1.71,1.76,1.8],[.925,1.67,1.72,1.78,1.87],[.945,1.66,1.71,1.75,1.82,1.92],[.965,1.68,1.73,1.77,1.84],[.985,1.67,1.71,1.76,1.8,1.88],[1.005,1.69,1.74,1.79,1.86],[1.025,1.68,1.72,1.77,1.83,1.95],[1.045,1.7,1.73,1.78,1.85,1.9],[1.065,1.69,1.75,1.8,1.87],[1.085,1.71,1.74,1.82,1.92],[1.105,1.7,1.76,1.8,1.86,1.98],[1.125,1.68,1.72,1.78,1.84,1.89],[1.145,1.71,1.75,1.81,1.9,2.01]];

const blobLeftX=[.744,.778,.800,.829,.846,.865,.865,.854,.851,.834,.806,.781,.755,.733,.721,.716,.671,.642,.634,.671,.682,.682,.671,.665,.650,.682,.682,.699];
const blobLeftY=[1.188,1.183,1.138,1.076,1.019,.969,.918,.862,.794,.727,.671,.614,.614,.620,.569,.524,.504,.530,.569,.614,.693,.772,.839,.941,.980,1.053,1.132,1.171];
const coreLeftX=[.778,.795,.789,.778,.755,.738], coreLeftY=[.977,.935,.890,.860,.912,.946];
const specX=[1.433,1.444,1.455,1.444], specY=[1.346,1.352,1.343,1.332];
const lvl1X=[1.224,1.246,1.292,1.337,1.371,1.405,1.447,1.484,1.475,1.495,1.534,1.563,1.602,1.613,1.647,1.664,1.647,1.653,1.625,1.619,1.585,1.546,1.517,1.472,1.416,1.371,1.292,1.224,1.190,1.145,1.100,1.083,1.083,1.094,1.097,1.117,1.145,1.190];
const lvl1Y=[1.175,1.171,1.205,1.222,1.265,1.253,1.225,1.265,1.295,1.314,1.314,1.273,1.239,1.177,1.132,1.025,.980,.946,.918,.862,.811,.778,.716,.665,.637,.586,.536,.482,.479,.491,.519,.569,.648,.761,.884,.952,1.042,1.121];
const lvl2X=[1.331,1.371,1.410,1.444,1.484,1.506,1.526,1.523,1.506,1.461,1.404,1.371,1.292,1.224,1.179,1.139,1.114,1.120,1.128,1.156,1.190,1.246,1.292];
const lvl2Y=[1.076,1.076,1.064,1.085,1.064,1.031,.980,.907,.817,.749,.682,.626,.553,.515,.519,.553,.603,.716,.817,.884,.946,.997,1.042];
const lvl3X=[1.371,1.410,1.433,1.463,1.438,1.393,1.348,1.292,1.224,1.179,1.139,1.128,1.134,1.139,1.167,1.201,1.246,1.303];
const lvl3Y=[.988,.977,.929,.856,.794,.727,.671,.603,.541,.541,.581,.626,.716,.794,.851,.907,.946,.963];
const lvl4X=[1.303,1.371,1.414,1.421,1.393,1.348,1.292,1.224,1.179,1.151,1.139,1.145,1.167,1.201,1.246];
const lvl4Y=[.927,.909,.909,.862,.783,.716,.637,.564,.564,.603,.648,.727,.806,.862,.912];
const lvl5X=[1.297,1.342,1.371,1.359,1.314,1.269,1.213,1.179,1.156,1.151,1.167,1.201,1.246];
const lvl5Y=[.905,.879,.817,.761,.693,.626,.592,.597,.626,.704,.783,.839,.890];
const lvl6X=[1.297,1.331,1.346,1.320,1.269,1.207,1.179,1.158,1.162,1.190,1.235];
const lvl6Y=[.864,.822,.761,.693,.637,.609,.614,.654,.738,.806,.845];
const lvl7X=[1.286,1.316,1.331,1.303,1.258,1.213,1.179,1.173,1.190,1.235];
const lvl7Y=[.834,.806,.749,.687,.642,.626,.648,.704,.772,.817];
const lvl8X=[1.258,1.297,1.314,1.286,1.235,1.207,1.184,1.184,1.213];
const lvl8Y=[.811,.800,.738,.687,.637,.642,.676,.721,.772];
const lvl9X=[1.260,1.303,1.280,1.229,1.201,1.192,1.213];
const lvl9Y=[.789,.744,.693,.654,.671,.704,.749];
const lvl10X=[1.258,1.289,1.267,1.224,1.207,1.224];
const lvl10Y=[.763,.740,.699,.671,.699,.749];
const gateX=[1.006,1.626,1.934,1.944,1.975,2.008,2.025,2.036,2.030,2.025,2.010,1.992,1.960,1.924,1.870,1.822,1.755,1.698,1.630,1.563,1.495,1.438,1.393,1.354,1.224,1.100,.998,.953,.908,.840,.784,.727,.671,.626,.597,.580,.575,.578,.588,.600,.627,.657,.698,1.006];
const gateY=[4.196,4.196,3.237,3.146,2.505,1.998,1.593,1.424,1.330,1.289,1.210,1.138,1.060,.986,.905,.834,.749,.688,.626,.569,.519,.474,.454,.446,.457,.463,.468,.485,.519,.592,.648,.716,.772,.839,.918,1.008,1.154,1.278,1.420,1.550,1.750,1.975,2.200,4.196];

const M=1e6, ex=[], ey=[];
railTopX.forEach(v=>{ex.push(v*M);ey.push(railLevel*M);});
railRightY.forEach(v=>{ex.push(railColumn*M);ey.push(v*M);});
[upperXY,farRightXY].forEach(a=>{for(let i=0;i<a.length;i+=2){ex.push(a[i]*M);ey.push(a[i+1]*M);}});
[gateRows,clusterRows,midRows,lowerRows,lowClusterRows,leftColumnRows,aroundMainRows,rightOfMainRows].forEach(rows=>rows.forEach(r=>{for(let i=1;i<r.length;i++){ex.push(r[i]*M);ey.push(r[0]*M);}}));
const scaled=a=>a.map(v=>v*M);
const poly=(x,y,color,smooth)=>({type:"scatter",mode:"lines",x:scaled(x),y:scaled(y),fill:"toself",fillcolor:color,line:smooth?{width:0,color:color,shape:"spline",smoothing:.5}:{width:0,color:color},hoverinfo:"skip",showlegend:false});
const traces=[
 {type:"scatter",mode:"markers",x:ex,y:ey,marker:{symbol:"square",size:2.8,color:"#333333",line:{width:0}},hoverinfo:"skip",showlegend:false},
 poly(blobLeftX,blobLeftY,"#0000FF",true),poly(specX,specY,"#0000FF"),poly(coreLeftX,coreLeftY,"#0078F5"),
 poly(lvl1X,lvl1Y,"#0000FF",true),poly(lvl2X,lvl2Y,"#0078F5"),poly(lvl3X,lvl3Y,"#00E0FF"),poly(lvl4X,lvl4Y,"#00F8A0"),
 poly(lvl5X,lvl5Y,"#00F000"),poly(lvl6X,lvl6Y,"#58F000"),poly(lvl7X,lvl7Y,"#B0F000"),poly(lvl8X,lvl8Y,"#FFD800"),poly(lvl9X,lvl9Y,"#FF6A00"),poly(lvl10X,lvl10Y,"#FF0000"),
 {type:"scatter",mode:"lines",x:scaled(gateX),y:scaled(gateY),line:{color:"#FFB000",width:4,shape:"linear"},hoverinfo:"skip",showlegend:false}
];
const tickFont={family:"Liberation Sans, Arial, sans-serif",size:48,color:"#4D4D4D"};
const titleFont={family:"Liberation Sans, Arial, sans-serif",size:49,color:"#000000"};
const common={showgrid:false,zeroline:false,showline:true,mirror:true,linecolor:"#333333",linewidth:2.4,ticks:"outside",ticklen:11,tickwidth:3,tickcolor:"#333333",tickfont:tickFont,tickmode:"array",tickvals:xTicks.map(v=>v*M),ticktext:tickLabels};
const layout={width:1500,height:1500,margin:{l:221,r:18,t:17,b:217,pad:0},paper_bgcolor:"#FFFFFF",plot_bgcolor:"#FFFFFF",showlegend:false,
 xaxis:Object.assign({},common,{range:[-.0373*M,4.2337*M],tickangle:-45,ticklabelstandoff:-12,ticklabelshift:7,title:{text:"FSC-A",font:titleFont,standoff:8}}),
 yaxis:Object.assign({},common,{range:[-.0371*M,4.2363*M],title:{text:"SSC-A",font:titleFont,standoff:11}})};
Plotly.newPlot("chart",traces,layout,{displayModeBar:false,staticPlot:true});
</script></body></html>
